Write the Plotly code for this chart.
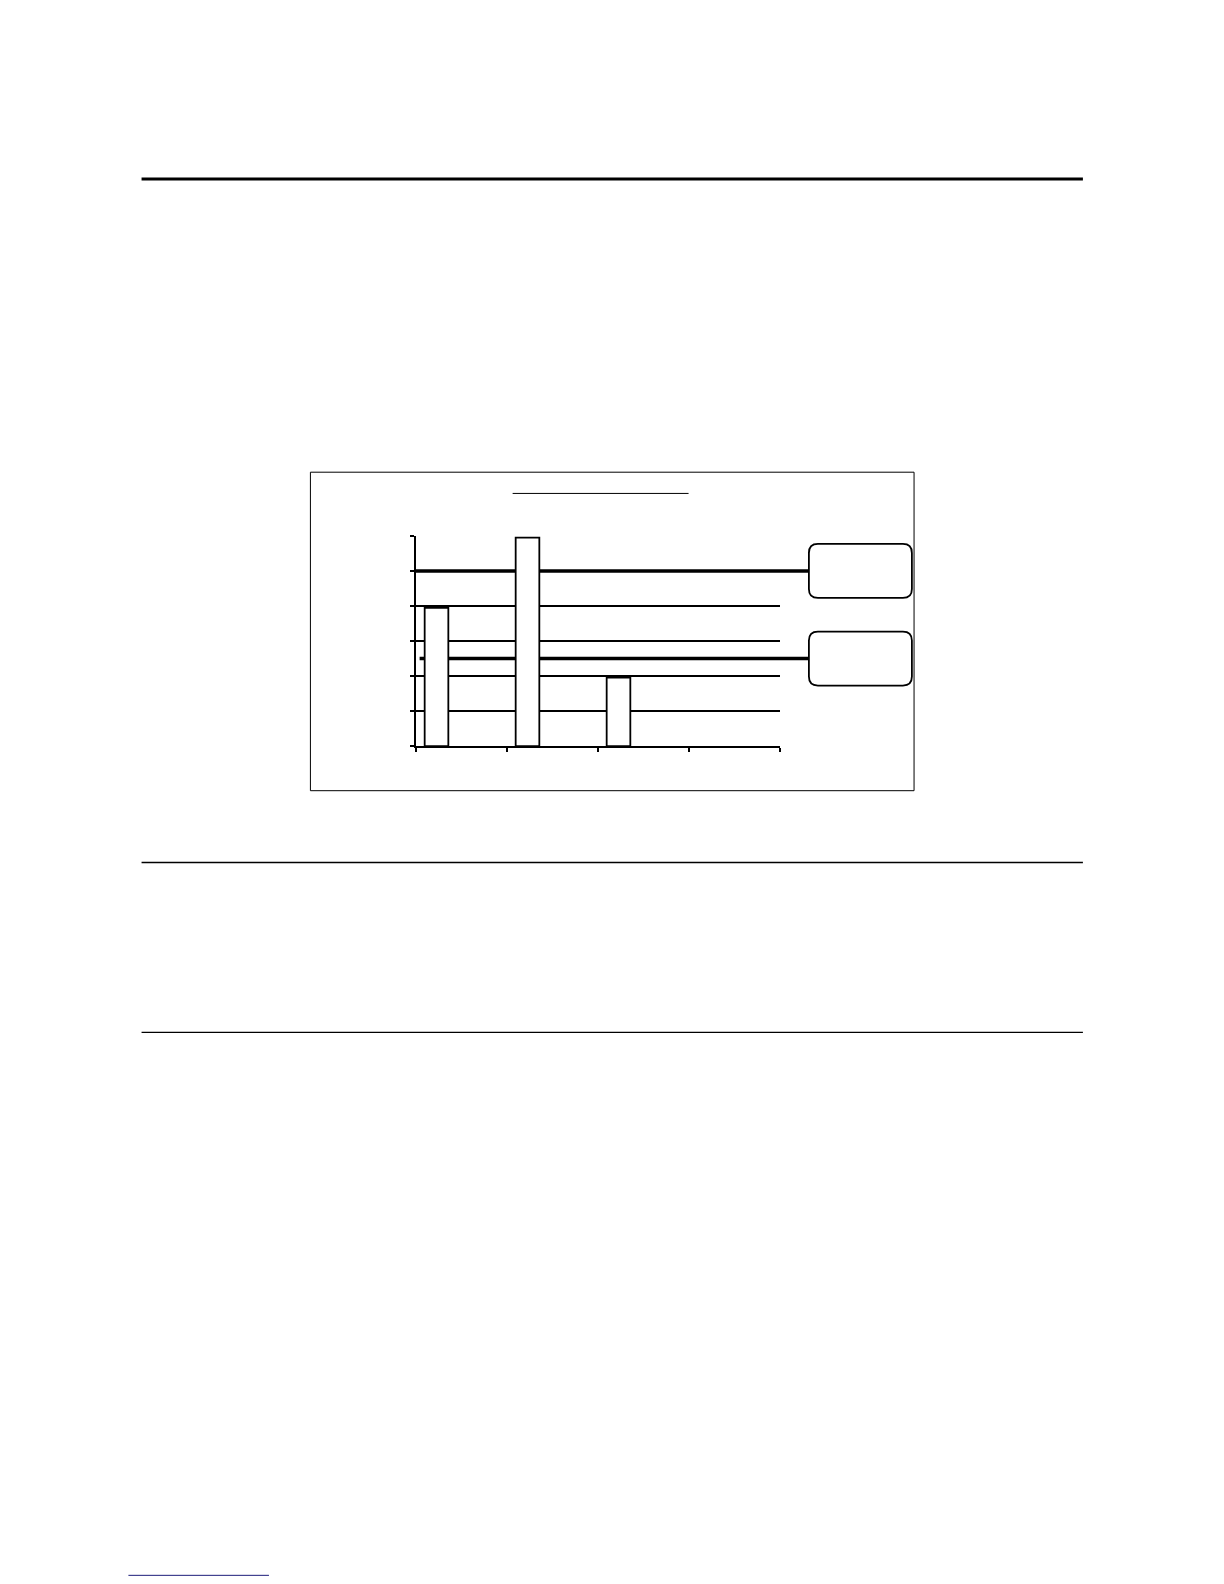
import plotly.graph_objects as go

# ---- datos (sin textos visibles) ----
categorias = ["1", "2", "3", "4"]
valores_barras = [3.95, 5.95, 1.96, None]
niveles_lineas = [5.0, 2.5]

# la pagina deja 8 px de margen; la captura sale reducida un poco (~0.989)
MARGEN = 8
ESCALA = 0.989
W, H = 1208, 1580


def px_x(p):
    return (p / ESCALA - MARGEN) / W


def px_y(p):
    return 1 - (p / ESCALA - MARGEN) / H


fig = go.Figure()

fig.add_trace(go.Bar(
    x=categorias,
    y=valores_barras,
    width=0.26,
    offset=-0.4,
    marker=dict(color="white", line=dict(color="black", width=1.8)),
    showlegend=False,
    hoverinfo="y",
))

shapes = []

# lineas gruesas que salen hacia los recuadros de la derecha
inicios = [411, 415]
for nivel, x0 in zip(niveles_lineas, inicios):
    shapes.append(dict(
        type="line", xref="paper", yref="y",
        x0=px_x(x0), x1=px_x(800), y0=nivel, y1=nivel,
        line=dict(color="black", width=3.4), layer="below",
    ))
    # recuadro redondeado centrado en la linea
    r = 9
    w, h = round(102 / ESCALA), round(27 / ESCALA)
    path = (f"M {r},{-h} L {w - r},{-h} Q {w},{-h} {w},{-h + r} "
            f"L {w},{h - r} Q {w},{h} {w - r},{h} L {r},{h} "
            f"Q 0,{h} 0,{h - r} L 0,{-h + r} Q 0,{-h} {r},{-h} Z")
    shapes.append(dict(
        type="path", xref="paper", yref="y",
        xsizemode="pixel", ysizemode="pixel",
        xanchor=px_x(800), yanchor=nivel,
        path=path, fillcolor="white",
        line=dict(color="black", width=1.8), layer="above",
    ))

# marco del grafico
shapes.append(dict(type="rect", xref="paper", yref="paper",
                   x0=px_x(307), x1=px_x(904), y0=px_y(782), y1=px_y(467),
                   line=dict(color="black", width=1), layer="below"))
# subrayado del titulo
shapes.append(dict(type="line", xref="paper", yref="paper",
                   x0=px_x(507), x1=px_x(681), y0=px_y(488), y1=px_y(488),
                   line=dict(color="black", width=1)))

# reglas de la pagina
shapes.append(dict(type="line", xref="paper", yref="paper",
                   x0=px_x(140), x1=px_x(1071), y0=px_y(177), y1=px_y(177),
                   line=dict(color="black", width=3)))
for yy in [853, 1021]:
    shapes.append(dict(type="line", xref="paper", yref="paper",
                       x0=px_x(140), x1=px_x(1071), y0=px_y(yy), y1=px_y(yy),
                       line=dict(color="black", width=1.3)))
shapes.append(dict(type="line", xref="paper", yref="paper",
                   x0=px_x(127), x1=px_x(266), y0=px_y(1558), y1=px_y(1558),
                   line=dict(color="#1c1c7a", width=1)))

fig.update_layout(
    width=W, height=H,
    margin=dict(l=0, r=0, t=0, b=0),
    paper_bgcolor="white",
    plot_bgcolor="rgba(0,0,0,0)",
    showlegend=False,
    shapes=shapes,
    font=dict(family="Liberation Sans", color="black"),
    xaxis=dict(
        type="category",
        domain=[px_x(411), px_x(771)],
        range=[-0.5, 3.5],
        tickson="boundaries",
        ticks="outside", ticklen=4, tickwidth=1.5, tickcolor="black",
        showticklabels=False,
        showgrid=False, zeroline=False,
        showline=True, linecolor="black", linewidth=2,
    ),
    yaxis=dict(
        domain=[px_y(738), px_y(530)],
        range=[0, 6], dtick=1,
        ticks="outside", ticklen=4, tickwidth=1.5, tickcolor="black",
        showticklabels=False,
        showgrid=True, gridcolor="black", gridwidth=1.8,
        zeroline=False,
        showline=True, linecolor="black", linewidth=2,
    ),
)

fig.write_html("out.html", config={"displayModeBar": False})
